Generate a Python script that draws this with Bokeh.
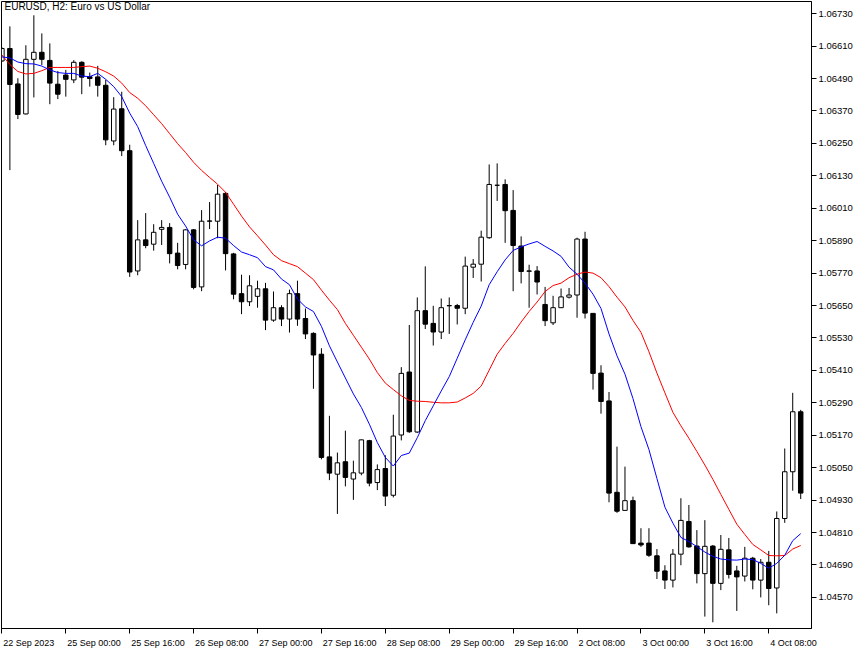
from bokeh.plotting import figure
from bokeh.models import ColumnDataSource, FixedTicker, Label, Range1d
from bokeh.embed import file_html
from bokeh.resources import INLINE

# ---- data (EURUSD, H2) ----
open_ = [1.06555, 1.06601, 1.06470, 1.06359, 1.06561, 1.06587, 1.06557, 1.06469, 1.06503, 1.06485,
         1.06550, 1.06497, 1.06496, 1.06465, 1.06259, 1.06378, 1.06223, 1.05778, 1.05893, 1.05877,
         1.05932, 1.05939, 1.05844, 1.05802, 1.05930, 1.05719, 1.05962, 1.05962, 1.06065, 1.05841,
         1.05694, 1.05664, 1.05684, 1.05712, 1.05596, 1.05642, 1.05600, 1.05694, 1.05602, 1.05547,
         1.05470, 1.05090, 1.05026, 1.05072, 1.05008, 1.05030, 1.05150, 1.04995, 1.05047, 1.04948,
         1.05171, 1.05404, 1.05182, 1.05631, 1.05584, 1.05552, 1.05649, 1.05650, 1.05640, 1.05792,
         1.05803, 1.05901, 1.06095, 1.06098, 1.06002, 1.05870, 1.05778, 1.05778, 1.05654, 1.05586,
         1.05642, 1.05681, 1.05689, 1.05896, 1.05621, 1.05400, 1.05297, 1.04959, 1.04892, 1.04928,
         1.04771, 1.04771, 1.04724, 1.04668, 1.04634, 1.04730, 1.04851, 1.04760, 1.04658, 1.04760,
         1.04622, 1.04746, 1.04668, 1.04649, 1.04715, 1.04634, 1.04700, 1.04605, 1.04862, 1.05035,
         1.05257]
high = [1.06606, 1.06683, 1.06491, 1.06613, 1.06724, 1.06657, 1.06620, 1.06518, 1.06522, 1.06558,
        1.06554, 1.06512, 1.06537, 1.06485, 1.06421, 1.06441, 1.06245, 1.05966, 1.05992, 1.05951,
        1.05966, 1.05955, 1.05882, 1.05933, 1.05933, 1.06003, 1.06033, 1.06096, 1.06070, 1.05845,
        1.05764, 1.05762, 1.05742, 1.05734, 1.05702, 1.05651, 1.05709, 1.05742, 1.05639, 1.05551,
        1.05492, 1.05242, 1.05106, 1.05187, 1.05076, 1.05154, 1.05153, 1.05062, 1.05096, 1.05246,
        1.05422, 1.05578, 1.05680, 1.05795, 1.05649, 1.05676, 1.05680, 1.05656, 1.05831, 1.05822,
        1.05927, 1.06172, 1.06176, 1.06117, 1.06077, 1.05906, 1.05801, 1.05796, 1.05719, 1.05686,
        1.05713, 1.05715, 1.05901, 1.05923, 1.05621, 1.05429, 1.05330, 1.05128, 1.05054, 1.04943,
        1.04826, 1.04826, 1.04749, 1.04689, 1.04749, 1.04937, 1.04912, 1.04819, 1.04856, 1.04764,
        1.04801, 1.04790, 1.04687, 1.04757, 1.04720, 1.04712, 1.04742, 1.04888, 1.05121, 1.05327,
        1.05264]
low = [1.06551, 1.06151, 1.06340, 1.06357, 1.06420, 1.06540, 1.06395, 1.06414, 1.06423, 1.06473,
       1.06432, 1.06460, 1.06423, 1.06243, 1.06243, 1.06203, 1.05756, 1.05762, 1.05862, 1.05853,
       1.05874, 1.05806, 1.05784, 1.05784, 1.05710, 1.05703, 1.05933, 1.05899, 1.05780, 1.05673,
       1.05618, 1.05648, 1.05642, 1.05559, 1.05590, 1.05574, 1.05550, 1.05575, 1.05526, 1.05342,
       1.05081, 1.05004, 1.04879, 1.04981, 1.04931, 1.05022, 1.04981, 1.04967, 1.04908, 1.04940,
       1.05151, 1.05179, 1.05179, 1.05563, 1.05502, 1.05526, 1.05545, 1.05580, 1.05618, 1.05752,
       1.05739, 1.05897, 1.06037, 1.05882, 1.05703, 1.05732, 1.05642, 1.05691, 1.05574, 1.05578,
       1.05642, 1.05676, 1.05605, 1.05602, 1.05339, 1.05250, 1.04922, 1.04883, 1.04892, 1.04769,
       1.04757, 1.04720, 1.04638, 1.04601, 1.04607, 1.04689, 1.04754, 1.04622, 1.04499, 1.04478,
       1.04597, 1.04640, 1.04520, 1.04629, 1.04600, 1.04570, 1.04541, 1.04511, 1.04846, 1.04965,
       1.04934]
close = [1.06601, 1.06468, 1.06357, 1.06561, 1.06587, 1.06561, 1.06473, 1.06432, 1.06487, 1.06550,
         1.06495, 1.06490, 1.06465, 1.06263, 1.06377, 1.06223, 1.05774, 1.05893, 1.05872, 1.05921,
         1.05939, 1.05842, 1.05798, 1.05930, 1.05717, 1.05962, 1.05963, 1.06062, 1.05842, 1.05692,
         1.05664, 1.05723, 1.05712, 1.05596, 1.05642, 1.05600, 1.05694, 1.05600, 1.05545, 1.05467,
         1.05088, 1.05030, 1.05068, 1.05014, 1.05031, 1.05153, 1.04993, 1.05043, 1.04945, 1.05167,
         1.05399, 1.05183, 1.05631, 1.05581, 1.05552, 1.05642, 1.05650, 1.05640, 1.05796, 1.05803,
         1.05903, 1.06098, 1.06095, 1.06001, 1.05872, 1.05776, 1.05777, 1.05737, 1.05594, 1.05642,
         1.05682, 1.05689, 1.05896, 1.05622, 1.05399, 1.05295, 1.04956, 1.04889, 1.04928, 1.04769,
         1.04764, 1.04726, 1.04667, 1.04634, 1.04730, 1.04855, 1.04757, 1.04658, 1.04759, 1.04622,
         1.04748, 1.04655, 1.04646, 1.04715, 1.04634, 1.04700, 1.04603, 1.04862, 1.05035, 1.05257,
         1.04956]
ma_fast = [1.06570, 1.06566, 1.06551, 1.06545, 1.06544, 1.06536, 1.06522, 1.06512, 1.06509, 1.06509,
           1.06499, 1.06497, 1.06509, 1.06487, 1.06460, 1.06423, 1.06362, 1.06312, 1.06242, 1.06176,
           1.06110, 1.06051, 1.05988, 1.05944, 1.05893, 1.05871, 1.05889, 1.05903, 1.05899, 1.05872,
           1.05848, 1.05838, 1.05827, 1.05794, 1.05782, 1.05748, 1.05727, 1.05674, 1.05645, 1.05628,
           1.05573, 1.05501, 1.05441, 1.05382, 1.05323, 1.05273, 1.05211, 1.05143, 1.05088, 1.05056,
           1.05095, 1.05104, 1.05161, 1.05224, 1.05279, 1.05334, 1.05387, 1.05455, 1.05523, 1.05588,
           1.05648, 1.05727, 1.05775, 1.05819, 1.05854, 1.05867, 1.05878, 1.05887, 1.05869, 1.05852,
           1.05832, 1.05792, 1.05766, 1.05733, 1.05692, 1.05639, 1.05545, 1.05464, 1.05396, 1.05306,
           1.05202, 1.05117, 1.05010, 1.04904, 1.04845, 1.04792, 1.04777, 1.04758, 1.04738, 1.04722,
           1.04712, 1.04709, 1.04708, 1.04712, 1.04710, 1.04696, 1.04678, 1.04696, 1.04726, 1.04780,
           1.04806]
ma_slow = [1.06577, 1.06542, 1.06516, 1.06507, 1.06509, 1.06519, 1.06531, 1.06531, 1.06531, 1.06531,
           1.06534, 1.06536, 1.06528, 1.06515, 1.06499, 1.06473, 1.06438, 1.06417, 1.06389, 1.06356,
           1.06323, 1.06286, 1.06249, 1.06216, 1.06180, 1.06150, 1.06124, 1.06099, 1.06069, 1.06025,
           1.05981, 1.05941, 1.05908, 1.05874, 1.05838, 1.05816, 1.05805, 1.05794, 1.05770, 1.05746,
           1.05707, 1.05670, 1.05635, 1.05584, 1.05540, 1.05496, 1.05452, 1.05402, 1.05363, 1.05339,
           1.05316, 1.05299, 1.05296, 1.05295, 1.05292, 1.05290, 1.05290, 1.05293, 1.05308, 1.05325,
           1.05352, 1.05411, 1.05470, 1.05510, 1.05547, 1.05589, 1.05628, 1.05663, 1.05702, 1.05724,
           1.05733, 1.05753, 1.05766, 1.05774, 1.05770, 1.05753, 1.05720, 1.05681, 1.05645, 1.05595,
           1.05551, 1.05479, 1.05400, 1.05327, 1.05255, 1.05205, 1.05159, 1.05110, 1.05060, 1.05007,
           1.04951, 1.04896, 1.04841, 1.04803, 1.04766, 1.04746, 1.04725, 1.04724, 1.04725, 1.04749,
           1.04762]
tick_idx = [0, 8, 16, 24, 32, 40, 48, 56, 64, 72, 80, 88, 96]
tick_labels = ["22 Sep 2023", "25 Sep 00:00", "25 Sep 16:00", "26 Sep 08:00", "27 Sep 00:00",
               "27 Sep 16:00", "28 Sep 08:00", "29 Sep 00:00", "29 Sep 16:00", "2 Oct 08:00",
               "3 Oct 00:00", "3 Oct 16:00", "4 Oct 08:00"]
price_ticks = [1.04570, 1.04690, 1.04810, 1.04930, 1.05050, 1.05170, 1.05290, 1.05410, 1.05530,
               1.05650, 1.05770, 1.05890, 1.06010, 1.06130, 1.06250, 1.06370, 1.06490, 1.06610, 1.06730]
title_text = "EURUSD, H2:  Euro vs US Dollar"

# ---- layout helpers ----
FONT = "Liberation Sans"
XLAB_PX = 9.0
X0, X1 = -0.05, 101.35
FRAME_W = 855 - 1 - 42
PX_PER_BAR = FRAME_W / (X1 - X0)
# approximate advance widths (em) of Liberation Sans, used to left-align time labels at their ticks
_adv = {c: 0.556 for c in "0123456789"}
_adv.update({" ": 0.278, ":": 0.278, "S": 0.667, "e": 0.556, "p": 0.556, "O": 0.778, "c": 0.5, "t": 0.278})


def text_w(s):
    return sum(_adv.get(ch, 0.556) for ch in s) * XLAB_PX


label_pos = [t + (1.5 + text_w(s) / 2) / PX_PER_BAR for t, s in zip(tick_idx, tick_labels)]

# ---- derived for drawing ----
idx = list(range(len(open_)))
top = [max(o, c) for o, c in zip(open_, close)]
bot = [min(o, c) for o, c in zip(open_, close)]
fill = ["white" if c >= o else "black" for o, c in zip(open_, close)]
src = ColumnDataSource(dict(x=idx, o=open_, h=high, l=low, c=close, top=top, bot=bot, fill=fill,
                            maf=ma_fast, mas=ma_slow))

p = figure(width=855, height=650, output_backend="svg", toolbar_location=None,
           y_axis_location="right", x_range=Range1d(X0, X1), y_range=Range1d(1.04455, 1.06775),
           min_border_left=1, min_border_top=1, min_border_right=42, min_border_bottom=18)
p.background_fill_color = "white"
p.border_fill_color = "white"
p.outline_line_color = "black"
p.outline_line_width = 1
p.xgrid.visible = False
p.ygrid.visible = False

p.segment(x0="x", y0="h", x1="x", y1="l", source=src, line_color="black", line_width=1)
p.vbar(x="x", top="top", bottom="bot", width=0.56, source=src, fill_color="fill",
       line_color="black", line_width=1)
p.line(x="x", y="mas", source=src, line_color="#FF0000", line_width=1)
p.line(x="x", y="maf", source=src, line_color="#0000FF", line_width=1)

# y axis (right)
ya = p.yaxis[0]
ya.ticker = FixedTicker(ticks=price_ticks)
ya.major_label_overrides = {t: f"{t:.5f}" for t in price_ticks}
ya.major_tick_out = 5
ya.major_tick_in = 0
ya.minor_tick_line_color = None
ya.axis_line_color = "black"
ya.major_tick_line_color = "black"
ya.major_label_text_font = FONT
ya.major_label_text_font_size = "9.5px"
ya.major_label_text_color = "black"
ya.major_label_standoff = 2

# x axis (below): tick marks drawn as minor ticks at each time; labels start at the tick
xa = p.xaxis[0]
xa.ticker = FixedTicker(ticks=label_pos, minor_ticks=tick_idx)
xa.major_label_overrides = {lp: s for lp, s in zip(label_pos, tick_labels)}
xa.major_tick_line_color = None
xa.major_tick_out = 0
xa.major_tick_in = 0
xa.minor_tick_line_color = "black"
xa.minor_tick_out = 5
xa.minor_tick_in = 0
xa.axis_line_color = "black"
xa.major_label_text_font = FONT
xa.major_label_text_font_size = f"{XLAB_PX}px"
xa.major_label_text_color = "black"
xa.major_label_standoff = 4

p.add_layout(Label(x=3, y=628, x_units="screen", y_units="screen", text=title_text,
                   text_align="left", text_baseline="top", text_font=FONT,
                   text_font_size="10px", text_color="black"))

open("out.html", "w").write(file_html(p, INLINE))
